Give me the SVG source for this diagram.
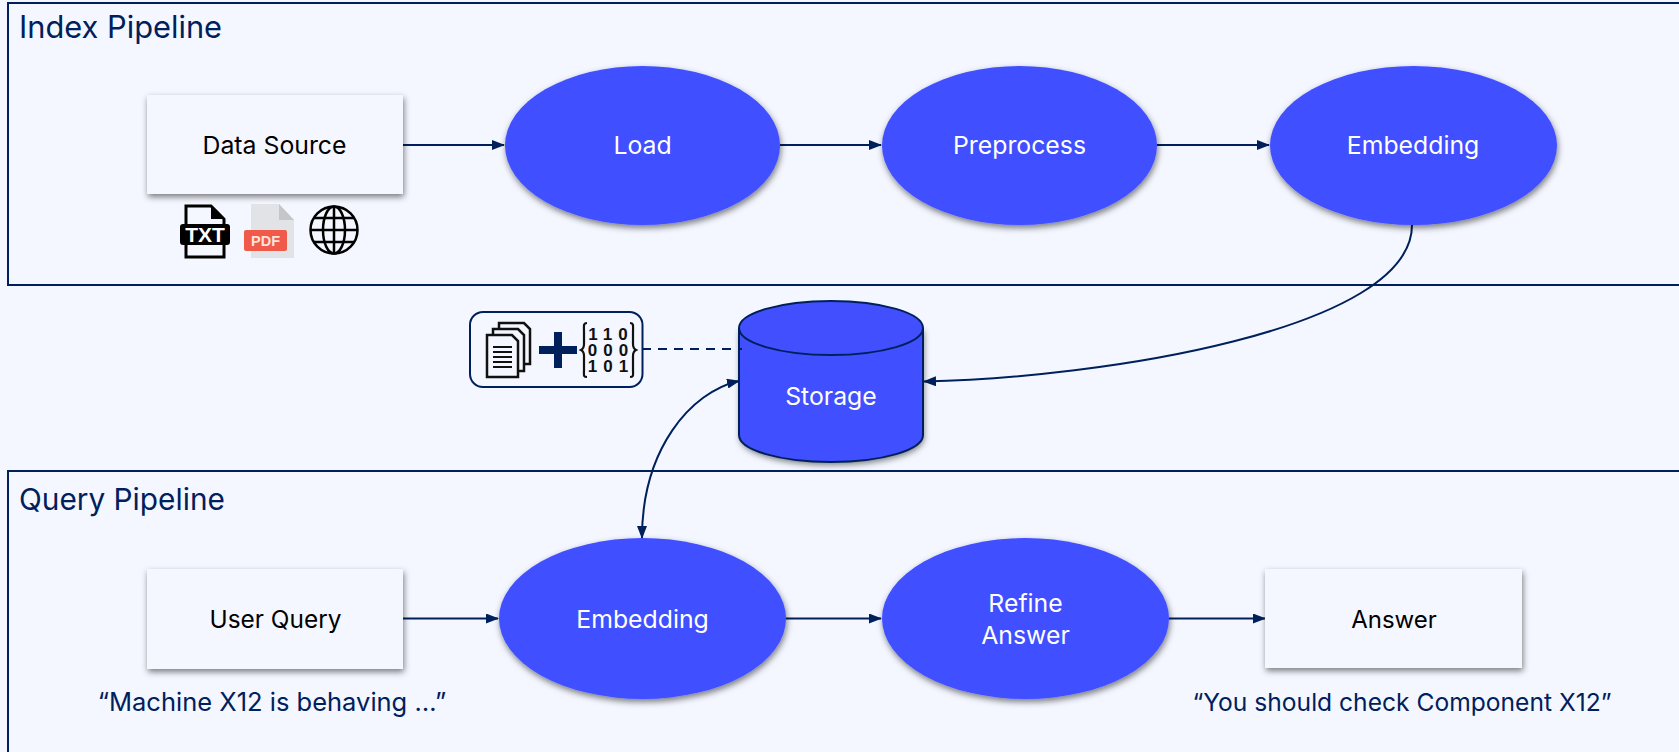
<svg xmlns="http://www.w3.org/2000/svg" width="1679" height="752" viewBox="0 0 1679 752">
<style>
text{font-family:Inter,"Liberation Sans",sans-serif}
.panel{fill:#f4f7ff;stroke:#00205b;stroke-width:2}
.box{fill:#f4f7ff;filter:url(#sh)}
.oval{fill:#414fff;filter:url(#sh)}
.lb{font-size:24.800px;text-anchor:middle;fill:#000}
.wl{font-size:24.800px;text-anchor:middle;fill:#fff}
.title{font-size:30.800px;fill:#00205b}
.cap{font-size:25px;fill:#00205b;text-anchor:middle}
.c{fill:none;stroke:#00205b;stroke-width:2}
.pg{fill:#f4f7ff;stroke:#111;stroke-width:2.500}
.dg{font-family:"Liberation Sans",sans-serif;font-weight:700;font-size:17px;letter-spacing:6px;fill:#111;text-anchor:middle}
.gl{fill:none;stroke:#000;stroke-width:2.500}
</style>
<defs>
<filter id="sh" x="-15%" y="-15%" width="130%" height="135%"><feDropShadow dx="1" dy="3" stdDeviation="3" flood-color="#000" flood-opacity=".5"/></filter>
<marker id="ah" viewBox="0 0 13 10" refX="12" refY="5" markerWidth="13" markerHeight="10" markerUnits="userSpaceOnUse" orient="auto-start-reverse"><path d="M0 0L13 5L0 10z" fill="#00205b"/></marker>
</defs>
<rect width="1679" height="752" fill="#f4f7ff"/>
<g id="index-pipeline"><rect class="panel" x="8" y="3" width="1690" height="282"/><text class="title" x="19" y="38">Index Pipeline</text></g>
<g id="query-pipeline"><rect class="panel" x="8" y="471" width="1690" height="300"/><text class="title" x="19" y="510" style="font-size:29.800px">Query Pipeline</text></g>
<g id="connectors">
<path class="c" d="M403 145H504" marker-end="url(#ah)"/>
<path class="c" d="M780 145H881" marker-end="url(#ah)"/>
<path class="c" d="M1157 145H1269" marker-end="url(#ah)"/>
<path class="c" d="M1412 225C1412 330 1100 378 924 381.500" marker-end="url(#ah)"/>
<path class="c" d="M739 381C690 392 642 450 642 538" marker-start="url(#ah)" marker-end="url(#ah)"/>
<path class="c" d="M403 618.500H498" marker-end="url(#ah)"/>
<path class="c" d="M786 618.500H881" marker-end="url(#ah)"/>
<path class="c" d="M1169 618.500H1265" marker-end="url(#ah)"/>
</g>
<g id="data-source"><rect class="box" x="147" y="95" width="256" height="99"/><text class="lb" x="274.500" y="154">Data Source</text></g>
<g id="load"><ellipse class="oval" cx="642.500" cy="145.500" rx="137.500" ry="79.500"/><text class="wl" x="642.500" y="154">Load</text></g>
<g id="preprocess"><ellipse class="oval" cx="1019.500" cy="145.500" rx="137.500" ry="79.500"/><text class="wl" x="1019.500" y="154">Preprocess</text></g>
<g id="embedding-index"><ellipse class="oval" cx="1413.500" cy="145.500" rx="143.500" ry="79.500"/><text class="wl" x="1413" y="154">Embedding</text></g>
<g id="source-icons">
<path d="M186 206H211L224 219V257H186z" fill="#f4f7ff" stroke="#000" stroke-width="3"/><path d="M211 206L224 219H211z" fill="#000"/>
<rect x="180" y="224" width="50" height="21" rx="3" fill="#000"/><text x="205" y="242" text-anchor="middle" font-size="21" font-weight="800" fill="#fff" style="font-family:'Liberation Sans',sans-serif">TXT</text>
<path d="M251 204H279L294 220V258H251z" fill="#e2e3e6"/><path d="M279 204L294 220H279z" fill="#c4c6ca"/>
<rect x="244" y="230" width="43" height="21" rx="2" fill="#ef5a4a"/><text x="265.500" y="246" text-anchor="middle" font-size="14.500" font-weight="700" fill="#fbe4dc" style="font-family:'Liberation Sans',sans-serif">PDF</text>
<circle class="gl" cx="334" cy="230" r="23.500"/><ellipse class="gl" cx="334" cy="230" rx="11" ry="23.500"/><path class="gl" d="M334 206.500V253.500M310.500 230H357.500M314 218H354M314 242H354"/>
</g>
<g id="storage">
<path d="M739 328V435C739 450 780 462 831 462S923 450 923 435V328z" fill="#414fff" filter="url(#sh)"/>
<path d="M739 328V435C739 450 780 462 831 462S923 450 923 435V328" fill="none" stroke="#00205b" stroke-width="2"/>
<ellipse cx="831" cy="328" rx="92" ry="27" fill="#414fff" stroke="#00205b" stroke-width="2"/>
<text class="wl" x="831" y="405">Storage</text>
</g>
<g id="chunk-vector">
<rect x="470" y="312" width="172.500" height="75" rx="13" fill="#f4f7ff" stroke="#00205b" stroke-width="2"/>
<path class="pg" d="M499 323H524L530 329V364H499z"/><path class="pg" d="M493 329H518L524 335V371H493z"/><path class="pg" d="M487 335H512L518 341V377H487z"/>
<path d="M493 347H512M493 352H512M493 357H512M493 362H512M493 367H512" stroke="#111" stroke-width="2.200"/>
<path d="M539 350H577M558 332V368" stroke="#00205b" stroke-width="8" fill="none"/>
<path d="M587 323C583 323 584 326 584 332V344C584 348 583 349 581 350C583 351 584 352 584 356V370C584 375 583 377 587 377M630 323C634 323 633 326 633 332V344C633 348 634 349 636 350C634 351 633 352 633 356V370C633 375 634 377 630 377" fill="none" stroke="#111" stroke-width="2.200"/>
<text class="dg" x="611" y="340">110</text><text class="dg" x="611" y="356">000</text><text class="dg" x="611" y="372">101</text>
</g>
<path d="M642 349H742" fill="none" stroke="#00205b" stroke-width="1.800" stroke-dasharray="9 7"/>
<g id="user-query"><rect class="box" x="147" y="569" width="256" height="100"/><text class="lb" x="275.500" y="628" style="font-size:24.400px">User Query</text></g>
<g id="embedding-query"><ellipse class="oval" cx="642.500" cy="618.500" rx="143.500" ry="80.500"/><text class="wl" x="642.500" y="628">Embedding</text></g>
<g id="refine-answer"><ellipse class="oval" cx="1025.500" cy="618.500" rx="143.500" ry="80.500"/><text class="wl" x="1025.500" y="612">Refine</text><text class="wl" x="1025.500" y="644">Answer</text></g>
<g id="answer"><rect class="box" x="1265" y="569" width="257" height="99"/><text class="lb" x="1394" y="628" style="font-size:24px">Answer</text></g>
<text class="cap" x="272" y="711" style="font-size:25.500px">“Machine X12 is behaving …”</text>
<text class="cap" x="1402" y="711" style="font-size:24.600px">“You should check Component X12”</text>
</svg>
